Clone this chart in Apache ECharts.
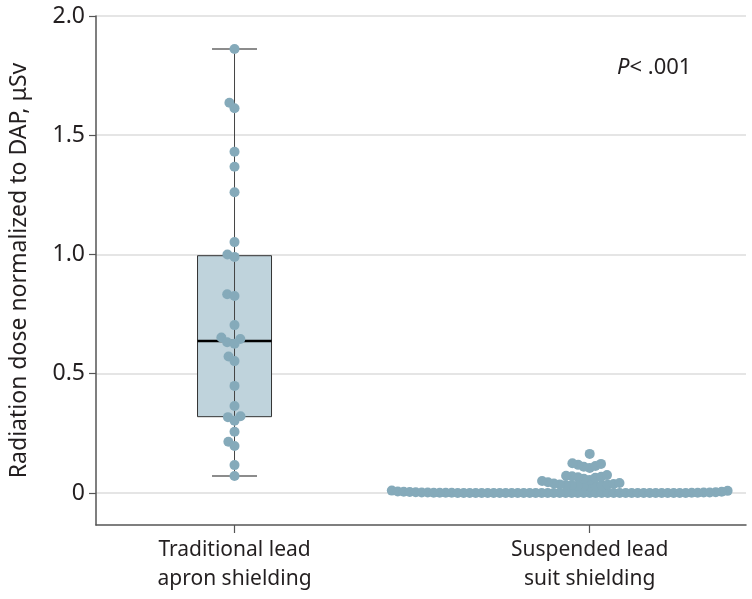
<!DOCTYPE html>
<html>
<head>
<meta charset="utf-8">
<script src="https://cdn.jsdelivr.net/npm/echarts@6/dist/echarts.min.js"></script>
<style>
  html, body { margin: 0; padding: 0; background: #fff; }
  #main { width: 752px; height: 599px; }
</style>
</head>
<body>
<div id="main"></div>
<script>
// categories, ticks
const categories = ['Traditional lead\napron shielding', 'Suspended lead\nsuit shielding'];
const catPos = [1, 2];
const yTicks = [0, 0.5, 1.0, 1.5, 2.0];

// box for traditional apron: [min, Q1, median, Q3, max]
const apronBox = [0.071, 0.32, 0.637, 0.995, 1.862];

// individual doses, uSv per DAP
const apronDoses = [
  1.862, 1.636, 1.613, 1.431, 1.368, 1.261, 1.052, 1.0, 0.99, 0.833,
  0.826, 0.704, 0.652, 0.646, 0.632, 0.626, 0.572, 0.553, 0.449, 0.365,
  0.322, 0.318, 0.303, 0.257, 0.215, 0.197, 0.117, 0.071
];
const suitDoses = [
  // row near zero
  0.010, 0.009, 0.006, 0.005, 0.005, 0.004, 0.003, 0.003, 0.002, 0.002,
  0.002, 0.002, 0.001, 0.001, 0.001, 0.001, 0.001, 0.001, 0, 0,
  0, 0, 0, 0, 0, 0, 0, 0, 0, 0,
  0, 0, 0, 0, 0, 0, 0, 0, 0, 0,
  0, 0, 0, 0, 0, 0, 0, 0, 0, 0,
  0, 0, 0, 0, 0, 0, 0,
  // cluster above
  0.028, 0.029, 0.030, 0.031, 0.032, 0.033, 0.034, 0.035, 0.036, 0.038,
  0.040, 0.042, 0.045,
  0.050, 0.055, 0.060, 0.064, 0.066, 0.068, 0.070, 0.072, 0.075,
  0.105, 0.110, 0.113, 0.118, 0.122, 0.125,
  0.164
];

const dotColor = '#85aaba';
const txt = '#231f20';
const font = 'Noto Sans';

const chart = echarts.init(document.getElementById('main'));

const option = {
  animation: false,
  backgroundColor: '#fff',
  textStyle: { fontFamily: font },
  grid: { left: 95, right: 6, top: 16, bottom: 74, containLabel: false },
  xAxis: {
    type: 'value',
    min: 0.61,
    max: 2.44,
    axisLine: { show: true, onZero: false, lineStyle: { color: '#555', width: 1.5 } },
    axisTick: { show: true, length: 8, customValues: catPos, lineStyle: { color: '#555', width: 1.2 } },
    axisLabel: {
      customValues: catPos,
      formatter: v => categories[Math.round(v) - 1],
      color: txt, fontSize: 21, lineHeight: 29, margin: 11
    },
    splitLine: { show: false }
  },
  yAxis: {
    type: 'value',
    min: -0.1342,
    max: 2,
    name: 'Radiation dose normalized to DAP, μSv',
    nameLocation: 'middle',
    nameGap: 65,
    nameTextStyle: { color: txt, fontSize: 23 },
    axisLine: { show: true, onZero: false, lineStyle: { color: '#555', width: 1.5 } },
    axisTick: { show: true, length: 7, customValues: yTicks, lineStyle: { color: '#555', width: 1.2 } },
    axisLabel: {
      customValues: yTicks,
      formatter: v => (v === 0 ? '0' : v.toFixed(1)),
      color: txt, fontSize: 23, margin: 11
    },
    splitLine: { show: true, lineStyle: { color: '#dddddd', width: 1.5 } }
  },
  graphic: [{
    type: 'text',
    left: 617,
    top: 57,
    style: {
      text: '{i|P}< .001',
      rich: { i: { fontStyle: 'italic', fontSize: 22, fontFamily: font, fill: txt } },
      fontSize: 22, fontFamily: font, fill: txt
    }
  }],
  series: [{
    type: 'custom',
    name: 'box',
    z: 2,
    data: [[catPos[0]].concat(apronBox)],
    renderItem: function (params, api) {
      const x = api.value(0);
      const lo = api.coord([x, api.value(1)]);
      const q1 = api.coord([x, api.value(2)]);
      const med = api.coord([x, api.value(3)]);
      const q3 = api.coord([x, api.value(4)]);
      const hi = api.coord([x, api.value(5)]);
      const bw = 74, cw = 45;
      return {
        type: 'group',
        children: [
          { type: 'rect', shape: { x: lo[0] - bw / 2, y: q3[1], width: bw, height: q1[1] - q3[1] },
            style: { fill: '#bfd3dc', stroke: '#333', lineWidth: 1 } },
          { type: 'line', shape: { x1: lo[0], y1: lo[1], x2: hi[0], y2: hi[1] },
            style: { stroke: '#444', lineWidth: 1 } },
          { type: 'line', shape: { x1: lo[0] - cw / 2, y1: lo[1], x2: lo[0] + cw / 2, y2: lo[1] },
            style: { stroke: '#666', lineWidth: 1.5 } },
          { type: 'line', shape: { x1: hi[0] - cw / 2, y1: hi[1], x2: hi[0] + cw / 2, y2: hi[1] },
            style: { stroke: '#666', lineWidth: 1.5 } },
          { type: 'line', shape: { x1: med[0] - bw / 2, y1: med[1], x2: med[0] + bw / 2, y2: med[1] },
            style: { stroke: '#000', lineWidth: 2.5 } }
        ]
      };
    }
  }]
};
chart.setOption(option);

// beeswarm layout in pixel space, offsets returned in px
// lean > 1 makes the swarm grow more to the left
function swarm(pixYs, gap, lean) {
  const order = pixYs.map((_, i) => i).sort((a, b) => pixYs[b] - pixYs[a]);
  const placed = [];
  const out = new Array(pixYs.length);
  const cost = c => (c > 0 ? c * lean : -c);
  order.forEach(i => {
    const y = pixYs[i];
    const near = placed.filter(p => Math.abs(p.y - y) < gap);
    const cands = [0];
    near.forEach(p => {
      const dx = Math.sqrt(gap * gap - (p.y - y) * (p.y - y));
      cands.push(p.x - dx, p.x + dx);
    });
    cands.sort((a, b) => cost(a) - cost(b));
    let x = 0;
    for (const c of cands) {
      if (near.every(p => (p.x - c) * (p.x - c) + (p.y - y) * (p.y - y) >= gap * gap - 1e-6)) { x = c; break; }
    }
    placed.push({ x: x, y: y });
    out[i] = x;
  });
  return out;
}

const pxPerUnit = chart.convertToPixel({ gridIndex: 0 }, [2, 0])[0] - chart.convertToPixel({ gridIndex: 0 }, [1, 0])[0];
function swarmPoints(cx, vals, gap, lean) {
  const ys = vals.map(v => chart.convertToPixel({ gridIndex: 0 }, [cx, v])[1]);
  const offs = swarm(ys, gap, lean);
  return vals.map((v, i) => [cx + offs[i] / pxPerUnit, v]);
}

chart.setOption({
  series: [{
    type: 'custom', name: 'box'
  }, {
    type: 'scatter',
    name: 'apron',
    z: 5,
    symbolSize: 10,
    itemStyle: { color: dotColor, opacity: 1 },
    data: swarmPoints(catPos[0], apronDoses, 7.5, 1)
  }, {
    type: 'scatter',
    name: 'suit',
    z: 5,
    symbolSize: 10,
    itemStyle: { color: dotColor, opacity: 1 },
    data: swarmPoints(catPos[1], suitDoses, 6, 1.4)
  }]
});
</script>
</body>
</html>
